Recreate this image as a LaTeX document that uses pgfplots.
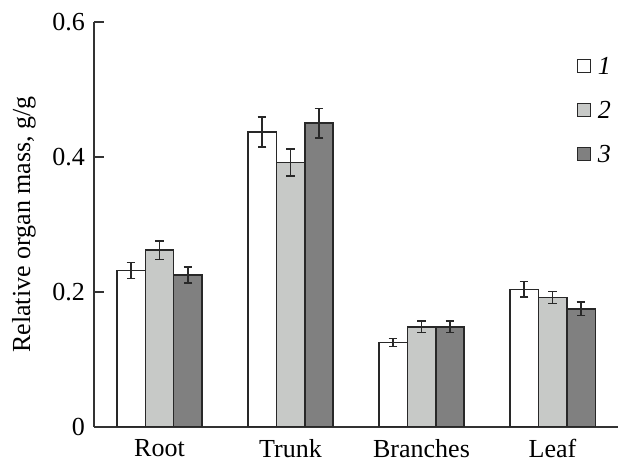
\documentclass[border=0pt]{standalone}
\usepackage{fontspec}
\setmainfont{Liberation Serif}
\usepackage{pgfplots}
\pgfplotsset{compat=1.18}
\definecolor{barA}{RGB}{255,255,255}
\definecolor{barB}{RGB}{199,201,199}
\definecolor{barC}{RGB}{128,128,128}
\definecolor{edge}{RGB}{40,40,40}
\begin{document}
\begin{tikzpicture}[font=\fontsize{13}{15.6}\selectfont]
\begin{axis}[
  name=ax,
  scale only axis,
  width=262pt, height=202.5pt,
  xmin=-0.5, xmax=3.5,
  ymin=0, ymax=0.6,
  axis x line=bottom, axis y line=left,
  axis line style={-, line width=0.7pt, draw=black!80},
  tick align=inside,
  major tick length=5pt,
  ytick={0,0.2,0.4,0.6},
  yticklabels={0,0.2,0.4,0.6},
  yticklabel style={xshift=-1pt},
  ytick style={line width=0.7pt, draw=black!80},
  xtick={0,1,2,3},
  xticklabels={Root,Trunk,Branches,Leaf},
  xticklabel style={yshift=2.5pt},
  xtick style={draw=none},
  extra x ticks={0.5,1.5,2.5,3.5},
  extra x tick labels={},
  extra x tick style={major tick length=4pt, tick style={draw=black!80, line width=0.7pt}},
  ylabel={Relative organ mass, g/g},
  ylabel style={at={(axis description cs:-0.1336,0.5)}, anchor=center},
  ybar=0pt,
  bar width=0.2175,
  legend style={at={(0.921,0.917)}, anchor=north west, draw=none, fill=none,
    inner sep=0pt, row sep=12pt,
    nodes={inner sep=1pt, text height=8pt, text depth=0pt},
    /tikz/every odd column/.append style={column sep=2.5pt}},
  legend image code/.code={\draw[#1, line width=0.6pt] (0pt,-3.15pt) rectangle (6.3pt,3.15pt);},
  legend cell align=left,
]
\addplot[draw=edge, line width=0.75pt, fill=barA,
  error bars/.cd, y dir=both, y explicit,
  error bar style={line width=0.75pt, draw=edge},
  error mark options={rotate=90, mark size=2.2pt, line width=0.75pt, draw=edge}]
  coordinates {(0,0.232) +- (0,0.012) (1,0.437) +- (0,0.022) (2,0.125) +- (0,0.006) (3,0.204) +- (0,0.0115)};
\addplot[draw=edge, line width=0.75pt, fill=barB,
  error bars/.cd, y dir=both, y explicit,
  error bar style={line width=0.75pt, draw=edge},
  error mark options={rotate=90, mark size=2.2pt, line width=0.75pt, draw=edge}]
  coordinates {(0,0.262) +- (0,0.0135) (1,0.392) +- (0,0.020) (2,0.1485) +- (0,0.0085) (3,0.192) +- (0,0.009)};
\addplot[draw=edge, line width=0.75pt, fill=barC,
  error bars/.cd, y dir=both, y explicit,
  error bar style={line width=0.75pt, draw=edge},
  error mark options={rotate=90, mark size=2.2pt, line width=0.75pt, draw=edge}]
  coordinates {(0,0.225) +- (0,0.012) (1,0.450) +- (0,0.022) (2,0.1485) +- (0,0.0085) (3,0.175) +- (0,0.010)};
\legend{\textit{1},\textit{2},\textit{3}}
\end{axis}
\pgfresetboundingbox
\path ([shift={(-47pt,-17.5pt)}]ax.south west) rectangle ([shift={(0.5pt,11pt)}]ax.north east);
\end{tikzpicture}
\end{document}
